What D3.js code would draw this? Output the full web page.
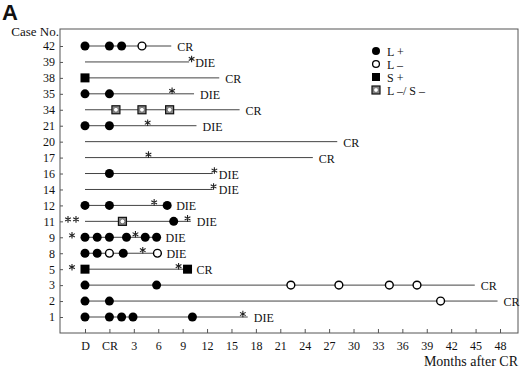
<!DOCTYPE html>
<html>
<head>
<meta charset="utf-8">
<script src="https://cdnjs.cloudflare.com/ajax/libs/d3/7.8.5/d3.min.js"></script>
<style>
  body { margin: 0; background: #fff; }
  text { font-family: "Liberation Serif", "Times New Roman", serif; fill: #111; }
</style>
</head>
<body>
<script>
// case numbers, top to bottom
let cases = [42, 39, 38, 35, 34, 21, 20, 17, 16, 14, 12, 11, 9, 8, 5, 3, 2, 1];
// month at which each line ends (D = -3, CR = 0)
let ends = [7.6, 9.8, 13.5, 10.4, 16, 10.7, 28, 25, 12.7, 12.7, 7.1, 10, 5.8, 5.9, 9.6, 44.9, 47.7, 17];
let outcomes = ["CR", "DIE", "CR", "DIE", "CR", "DIE", "CR", "CR", "DIE", "DIE", "DIE", "DIE", "DIE", "DIE", "CR", "CR", "CR", "DIE"];

// markers: [case, month]
let lPos = [[42, -3], [42, 0], [42, 1.5], [35, -3], [35, 0], [21, -3], [21, 0], [16, 0],
            [12, -3], [12, 0], [12, 7.1], [11, 7.9],
            [9, -3], [9, -1.5], [9, 0], [9, 2.1], [9, 4.4], [9, 5.8],
            [8, -3], [8, -1.5], [8, 1.7], [3, -3], [3, 5.8], [2, -3], [2, 0],
            [1, -3], [1, 0], [1, 1.5], [1, 2.9], [1, 10.2]];
let lNeg = [[42, 4.0], [8, 0], [8, 5.9], [3, 22.3], [3, 28.2], [3, 34.4], [3, 37.8], [2, 40.7]];
let sPos = [[38, -3], [5, -3], [5, 9.6]];
let lsNeg = [[34, 0.8], [34, 4.0], [34, 7.4], [11, 1.6]];
let stars = [[39, 10.1], [35, 7.7], [21, 4.7], [17, 4.8], [16, 12.9], [14, 12.8], [12, 5.5],
             [11, 9.6], [9, 3.2], [8, 4.1], [5, 8.5], [1, 16.4]];
// asterisks left of the start: [case, count]
let preStars = [[11, 2], [9, 1], [5, 1]];

let xTicks = [-3, 0, 3, 6, 9, 12, 15, 18, 21, 24, 27, 30, 33, 36, 39, 42, 45, 48];
let legendNames = ["L +", "L \u2013", "S +", "L \u2013/ S \u2013"];

let width = 520, height = 370;
let svg = d3.select("body").append("svg")
  .attr("width", width)
  .attr("height", height);

let x = d3.scaleLinear().domain([-3, 48]).range([85, 500]);
let y = d3.scalePoint().domain(cases).range([46, 317]);

let pLeft = 60, pTop = 29, pRight = 518, pBottom = 333;

// frame
svg.append("rect")
  .attr("x", pLeft).attr("y", pTop)
  .attr("width", pRight - pLeft).attr("height", pBottom - pTop)
  .attr("fill", "none").attr("stroke", "#555").attr("stroke-width", 1);

// x axis
let xAxis = d3.axisBottom(x)
  .tickValues(xTicks)
  .tickSize(-4)
  .tickPadding(8)
  .tickFormat(d => d == -3 ? "D" : d == 0 ? "CR" : d);
let gx = svg.append("g").attr("transform", `translate(0,${pBottom})`).call(xAxis);
gx.select(".domain").remove();
gx.selectAll("line").attr("stroke", "#555");
gx.selectAll("text").style("font-size", "12px").style("font-family", "Liberation Serif");

// y axis
let yAxis = d3.axisLeft(y).tickSize(-3).tickPadding(5);
let gy = svg.append("g").attr("transform", `translate(${pLeft},0)`).call(yAxis);
gy.select(".domain").remove();
gy.selectAll("line").attr("stroke", "#555");
gy.selectAll("text").style("font-size", "12px").style("font-family", "Liberation Serif");

// lines
let rows = cases.map((c, i) => ({c: c, end: ends[i], out: outcomes[i]}));
svg.append("g").selectAll("line")
  .data(rows).join("line")
  .attr("x1", x(-3)).attr("x2", d => x(d.end))
  .attr("y1", d => y(d.c)).attr("y2", d => y(d.c))
  .attr("stroke", "#444").attr("stroke-width", 1);

// end labels
let markerEnds = {};
lPos.concat(lNeg, sPos).forEach(m => { if (Math.abs(m[1] - ends[cases.indexOf(m[0])]) < 0.3) markerEnds[m[0]] = true; });
svg.append("g").selectAll("text")
  .data(rows).join("text")
  .attr("x", d => x(d.end) + (markerEnds[d.c] ? 9 : 6))
  .attr("y", d => y(d.c) + 5)
  .style("font-size", "12px")
  .text(d => d.out);

// markers
let r = 4.5;
svg.append("g").selectAll("circle")
  .data(lPos).join("circle")
  .attr("cx", d => x(d[1])).attr("cy", d => y(d[0])).attr("r", r)
  .attr("fill", "#000");

svg.append("g").selectAll("circle")
  .data(lNeg).join("circle")
  .attr("cx", d => x(d[1])).attr("cy", d => y(d[0])).attr("r", r - 0.6)
  .attr("fill", "#fff").attr("stroke", "#000").attr("stroke-width", 1.4);

svg.append("g").selectAll("rect")
  .data(sPos).join("rect")
  .attr("x", d => x(d[1]) - 4.5).attr("y", d => y(d[0]) - 4.5)
  .attr("width", 9).attr("height", 9)
  .attr("fill", "#000");

function patterned(g, cx, cy) {
  g.append("rect")
    .attr("x", cx - 4).attr("y", cy - 4).attr("width", 8).attr("height", 8)
    .attr("fill", "#888").attr("stroke", "#111").attr("stroke-width", 1.2);
  g.append("circle")
    .attr("cx", cx).attr("cy", cy).attr("r", 2.4)
    .attr("fill", "#fff").attr("stroke", "#666").attr("stroke-width", 0.8);
}
let gls = svg.append("g");
lsNeg.forEach(d => patterned(gls, x(d[1]), y(d[0])));

// asterisks
let star = d3.symbol(d3.symbolAsterisk, 30)();
svg.append("g").selectAll("path")
  .data(stars).join("path")
  .attr("d", star)
  .attr("transform", d => `translate(${x(d[1])},${y(d[0]) - 3})`)
  .attr("fill", "none").attr("stroke", "#222").attr("stroke-width", 1.1);

let pre = [];
preStars.forEach(d => {
  for (let k = 0; k < d[1]; k++) pre.push({c: d[0], px: 72 + (k - (d[1] - 1) / 2) * 8});
});
svg.append("g").selectAll("path")
  .data(pre).join("path")
  .attr("d", star)
  .attr("transform", d => `translate(${d.px},${y(d.c) - 2})`)
  .attr("fill", "none").attr("stroke", "#222").attr("stroke-width", 1.1);

// legend
let lg = svg.append("g");
let ly = d3.scalePoint().domain(legendNames).range([51, 90]);
lg.append("circle").attr("cx", 376).attr("cy", ly(legendNames[0])).attr("r", 4).attr("fill", "#000");
lg.append("circle").attr("cx", 376).attr("cy", ly(legendNames[1])).attr("r", 3.4)
  .attr("fill", "#fff").attr("stroke", "#000").attr("stroke-width", 1.3);
lg.append("rect").attr("x", 372).attr("y", ly(legendNames[2]) - 4).attr("width", 8).attr("height", 8).attr("fill", "#000");
patterned(lg, 376, ly(legendNames[3]));
lg.selectAll("text")
  .data(legendNames).join("text")
  .attr("x", 387).attr("y", d => ly(d) + 4.5)
  .style("font-size", "12px")
  .text(d => d);

// titles
svg.append("text").attr("x", 59).attr("y", 36)
  .attr("text-anchor", "end").style("font-size", "13px").text("Case No.");
svg.append("text").attr("x", 518).attr("y", 366)
  .attr("text-anchor", "end").style("font-size", "14px").text("Months after CR");
svg.append("text").attr("x", 2).attr("y", 20)
  .style("font-family", "Liberation Sans, Arial, sans-serif")
  .style("font-weight", "bold").style("font-size", "22px").text("A");
</script>
</body>
</html>
